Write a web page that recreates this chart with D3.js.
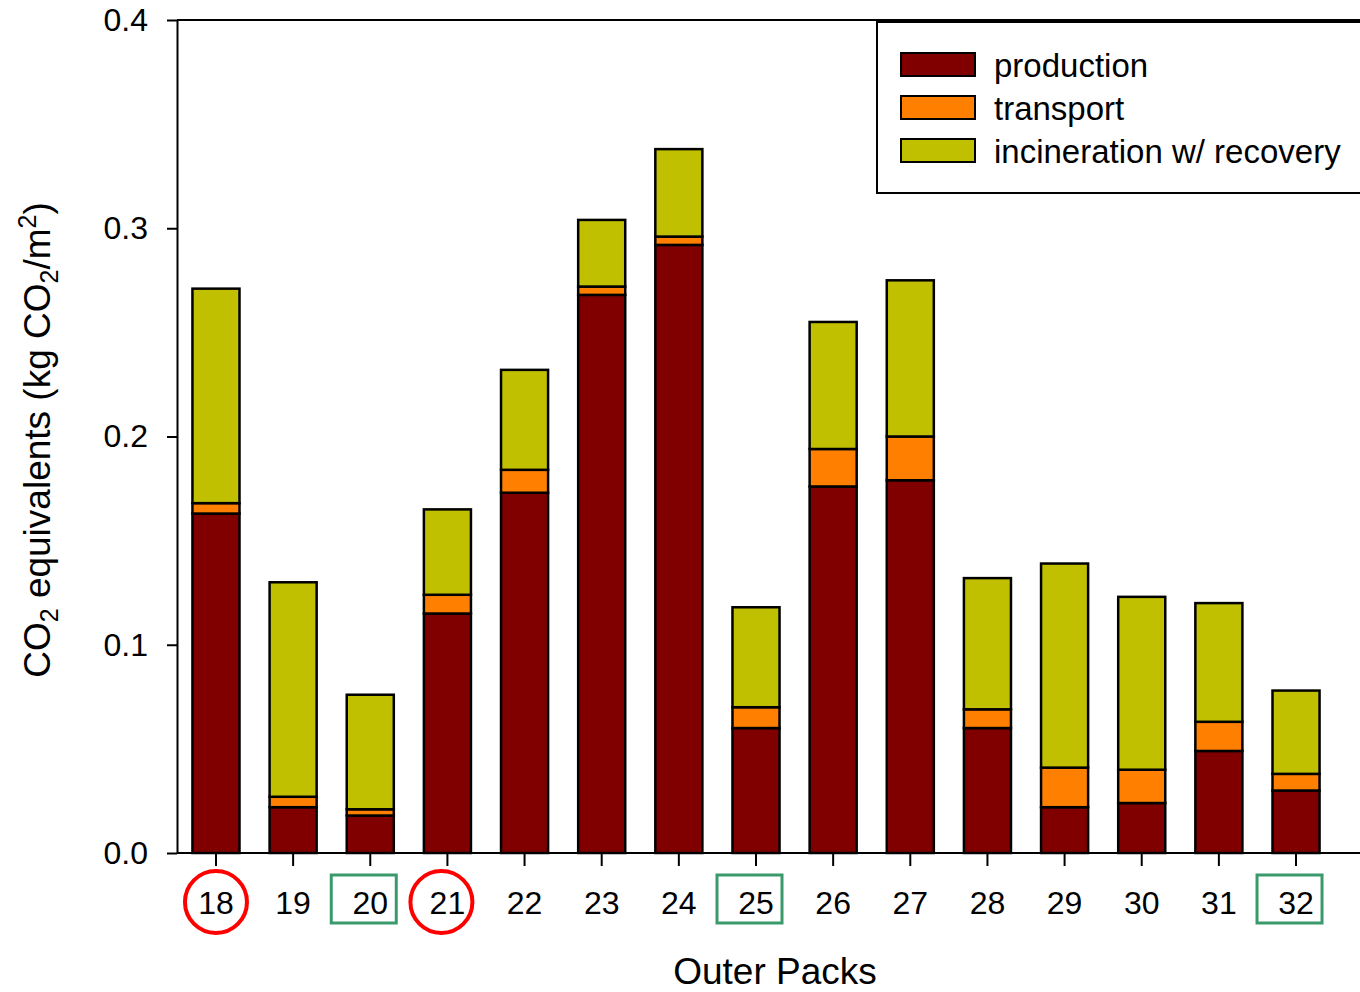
<!DOCTYPE html>
<meta charset="utf-8">
<style>
body { margin: 0; background: #fff; }
text { font-family: "Liberation Sans", Arial, sans-serif; fill: #000; }
.axis path, .axis line { stroke: #000; stroke-width: 2px; }
.axis text { font-size: 32px; font-family: "Liberation Sans", Arial, sans-serif; }
.bar { stroke: #000; stroke-width: 2.5px; }
</style>
<body>
<script src="https://d3js.org/d3.v7.min.js"></script>
<script>

// data
var packs = ["18", "19", "20", "21", "22", "23", "24", "25", "26", "27", "28", "29", "30", "31", "32"];
var production   = [0.163, 0.022, 0.018, 0.115, 0.173, 0.268, 0.292, 0.060, 0.176, 0.179, 0.060, 0.022, 0.024, 0.049, 0.030];
var transport    = [0.005, 0.005, 0.003, 0.009, 0.011, 0.004, 0.004, 0.010, 0.018, 0.021, 0.009, 0.019, 0.016, 0.014, 0.008];
var incineration = [0.103, 0.103, 0.055, 0.041, 0.048, 0.032, 0.042, 0.048, 0.061, 0.075, 0.063, 0.098, 0.083, 0.057, 0.040];
var seriesNames  = ["production", "transport", "incineration w/ recovery"];
var seriesColors = ["#800000", "#ff8000", "#c0c000"];
var yTicks = [0, 0.1, 0.2, 0.3, 0.4];
var circled = ["18", "21"];
var boxed = ["20", "25", "32"];

var W = 1360, H = 992;
var mLeft = 177, mTop = 20, mBottom = 853;

var svg = d3.select("body").append("svg")
    .attr("width", W)
    .attr("height", H);

var x = d3.scaleBand()
    .domain(packs)
    .range([177.4, 1334.6])
    .paddingInner(0.39)
    .paddingOuter(0.195);

var y = d3.scaleLinear().domain([0, 0.4]).range([mBottom, mTop]);

// build stack table
var table = packs.map(function(p, i) {
  return { pack: p, production: production[i], transport: transport[i], incineration: incineration[i] };
});
var keys = ["production", "transport", "incineration"];
var stacked = d3.stack().keys(keys)(table);

// top frame line
svg.append("line")
    .attr("x1", mLeft).attr("x2", W)
    .attr("y1", mTop).attr("y2", mTop)
    .attr("stroke", "#000").attr("stroke-width", 2);

// bars
svg.selectAll("g.layer")
    .data(stacked)
  .enter().append("g")
    .attr("class", "layer")
    .attr("fill", function(d, i) { return seriesColors[i]; })
  .selectAll("rect")
    .data(function(d) { return d; })
  .enter().append("rect")
    .attr("class", "bar")
    .attr("x", function(d) { return x(d.data.pack); })
    .attr("width", x.bandwidth())
    .attr("y", function(d) { return y(d[1]); })
    .attr("height", function(d) { return y(d[0]) - y(d[1]); });

// y axis
svg.append("g")
    .attr("class", "axis")
    .attr("transform", "translate(" + mLeft + ",0)")
    .call(d3.axisLeft(y).tickValues(yTicks).tickSize(10).tickPadding(19).tickSizeOuter(0)
      .tickFormat(d3.format(".1f")));

// x axis
var xAxis = svg.append("g")
    .attr("class", "axis")
    .attr("transform", "translate(0," + mBottom + ")")
    .call(d3.axisBottom(x).tickSize(13).tickPadding(25).tickSizeOuter(0));
xAxis.select(".domain").attr("d", "M" + mLeft + ",0H" + W);

// annotations around some labels (hand drawn, slightly off-centre)
svg.selectAll("circle.mark")
    .data(circled)
  .enter().append("circle")
    .attr("cx", function(d, i) { return x(d) + x.bandwidth() / 2 - i * 6; })
    .attr("cy", 902)
    .attr("r", 31)
    .attr("fill", "none")
    .attr("stroke", "#ff0000")
    .attr("stroke-width", 4);

svg.selectAll("rect.mark")
    .data(boxed)
  .enter().append("rect")
    .attr("x", function(d) { return x(d) + x.bandwidth() / 2 - 39; })
    .attr("y", 875)
    .attr("width", 65)
    .attr("height", 48)
    .attr("fill", "none")
    .attr("stroke", "#3a9a6c")
    .attr("stroke-width", 3);

// axis titles
svg.append("text")
    .attr("x", 775).attr("y", 984)
    .attr("text-anchor", "middle")
    .style("font-size", "37px")
    .text("Outer Packs");

var yl = svg.append("text")
    .attr("transform", "translate(50,440) rotate(-90)")
    .attr("text-anchor", "middle")
    .style("font-size", "37px");
yl.append("tspan").text("CO");
yl.append("tspan").attr("baseline-shift", "-30%").style("font-size", "25px").text("2");
yl.append("tspan").text(" equivalents (kg CO");
yl.append("tspan").attr("baseline-shift", "-30%").style("font-size", "25px").text("2");
yl.append("tspan").text("/m");
yl.append("tspan").attr("baseline-shift", "55%").style("font-size", "25px").text("2");
yl.append("tspan").text(")");

// legend
var lg = svg.append("g");
lg.append("rect")
    .attr("x", 877).attr("y", 22)
    .attr("width", 500).attr("height", 171)
    .attr("fill", "#fff")
    .attr("stroke", "#000").attr("stroke-width", 2);

var items = lg.selectAll("g.item")
    .data(seriesNames)
  .enter().append("g")
    .attr("transform", function(d, i) { return "translate(0," + (53 + i * 43) + ")"; });
items.append("rect")
    .attr("x", 901).attr("y", 0)
    .attr("width", 74).attr("height", 23)
    .attr("fill", function(d, i) { return seriesColors[i]; })
    .attr("stroke", "#000").attr("stroke-width", 2);
items.append("text")
    .attr("x", 994).attr("y", 24)
    .style("font-size", "33px")
    .text(function(d) { return d; });

</script>
</body>
